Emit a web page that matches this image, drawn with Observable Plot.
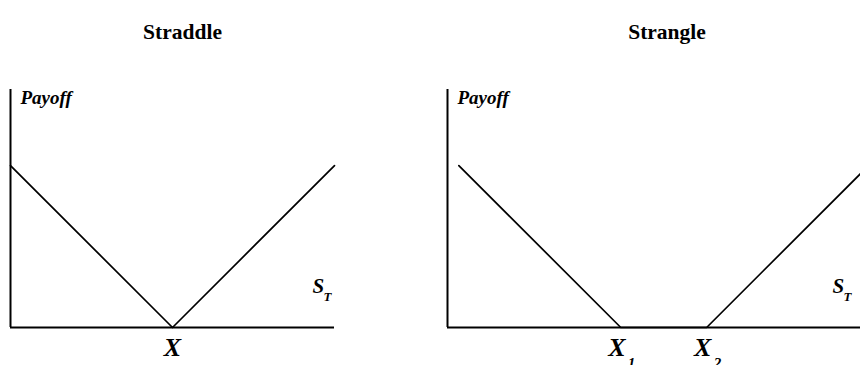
<!DOCTYPE html>
<html>
<head>
<meta charset="utf-8">
<script src="https://cdn.jsdelivr.net/npm/d3@7"></script>
<script src="https://cdn.jsdelivr.net/npm/@observablehq/plot@0.6"></script>
</head>
<body style="margin:0">
<div id="wrap" style="width:860px;height:365px;overflow:hidden;white-space:nowrap;font-size:0"></div>
<script>
// ---- data ----
const titles = ["Straddle", "Strangle"];
const yLabel = "Payoff";
const xLabelMain = "S";
const xLabelSub = "T";

// Straddle: payoff |S_T - X|
const straddleST = [0, 100, 200];
const straddlePayoff = [100, 0, 100];
const straddleStrikes = [100];
const straddleStrikeNames = ["X"];
const straddleStrikeSubs = [""];

// Strangle: payoff max(X1 - S_T, 0) + max(S_T - X2, 0)
const strangleST = [7, 107, 160, 255];
const stranglePayoff = [100, 0, 0, 95];
const strangleStrikes = [107, 160];
const strangleStrikeNames = ["X", "X"];
const strangleStrikeSubs = ["1", "2"];

const yMax = 147;
const FONT = "Liberation Serif";

function panel(o) {
  const pts = o.st.map((s, i) => ({st: s, payoff: o.payoff[i]}));
  const strikes = o.strikes.map((k, i) => ({k, name: o.names[i], sub: o.subs[i]}));
  const hasSub = strikes.some(d => d.sub);
  const svg = Plot.plot({
    width: o.width,
    height: 365,
    marginLeft: o.mL,
    marginRight: o.mR,
    marginTop: 89,
    marginBottom: 38,
    x: {domain: [0, o.xMax], axis: null},
    y: {domain: [0, yMax], axis: null},
    style: {fontFamily: FONT},
    marks: [
      Plot.ruleY([0], {strokeWidth: 2}),
      Plot.ruleX([0], {strokeWidth: 2}),
      Plot.line(pts, {x: "st", y: "payoff", strokeWidth: 1.7}),
      // title
      Plot.text([o.title], {frameAnchor: "top", dx: o.titleDx, dy: -66,
        fontSize: 21.5, fontWeight: "bold", fontFamily: FONT}),
      // y label
      Plot.text([yLabel], {frameAnchor: "top-left", textAnchor: "start", dx: 10, dy: 1,
        fontSize: 19, fontWeight: "bold", fontStyle: "italic", fontFamily: FONT}),
      // S_T label
      Plot.text([xLabelMain], {frameAnchor: "bottom-right", textAnchor: "start", dx: o.stDx, dy: -35,
        fontSize: 21, fontWeight: "bold", fontStyle: "italic", fontFamily: FONT}),
      Plot.text([xLabelSub], {frameAnchor: "bottom-right", textAnchor: "start", dx: o.stDx + 11, dy: -27,
        fontSize: 13, fontWeight: "bold", fontStyle: "italic", fontFamily: FONT}),
      // strike labels
      Plot.text(strikes, {x: "k", frameAnchor: "bottom", text: "name", dx: hasSub ? -4 : 0, dy: 28,
        fontSize: 26, fontWeight: "bold", fontStyle: "italic", fontFamily: FONT}),
      Plot.text(strikes, {x: "k", frameAnchor: "bottom", text: "sub", textAnchor: "start", dx: 7, dy: 40,
        fontSize: 15, fontWeight: "bold", fontStyle: "italic", fontFamily: FONT})
    ]
  });
  svg.style.display = "inline-block";
  svg.style.verticalAlign = "top";
  return svg;
}

const wrap = document.getElementById("wrap");
wrap.append(panel({
  title: titles[0], st: straddleST, payoff: straddlePayoff,
  strikes: straddleStrikes, names: straddleStrikeNames, subs: straddleStrikeSubs,
  xMax: 200, width: 430, mL: 10, mR: 96, titleDx: 10, stDx: -22
}));
wrap.append(panel({
  title: titles[1], st: strangleST, payoff: stranglePayoff,
  strikes: strangleStrikes, names: strangleStrikeNames, subs: strangleStrikeSubs,
  xMax: 255, width: 430, mL: 17, mR: 0, titleDx: 13, stDx: -28
}));
</script>
</body>
</html>
